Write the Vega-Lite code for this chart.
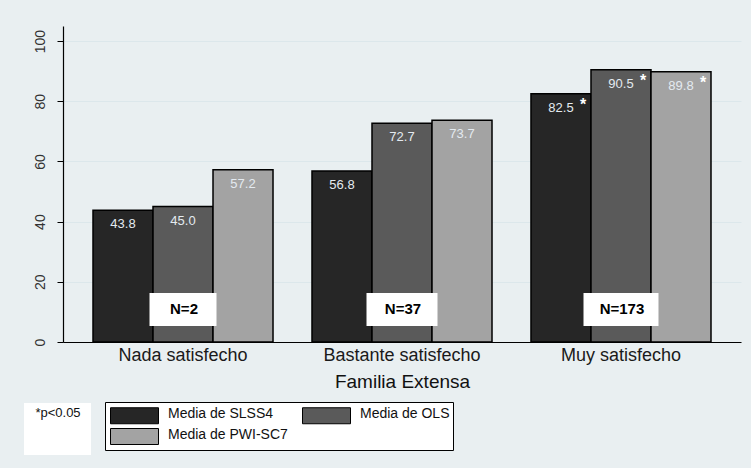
{
  "$schema": "https://vega.github.io/schema/vega-lite/v6.json",
  "width": 678,
  "height": 316,
  "autosize": {"type": "none"},
  "padding": {"left": 63, "top": 26, "right": 10, "bottom": 126},
  "background": "#e9eff1",
  "config": {
    "view": {"fill": "white", "stroke": null},
    "font": "Liberation Sans"
  },
  "datasets": {
    "medias": [
      {"grupo": "Nada satisfecho", "serie": "Media de SLSS4", "valor": 43.8, "sig": ""},
      {"grupo": "Nada satisfecho", "serie": "Media de OLS", "valor": 45.0, "sig": ""},
      {"grupo": "Nada satisfecho", "serie": "Media de PWI-SC7", "valor": 57.2, "sig": ""},
      {"grupo": "Bastante satisfecho", "serie": "Media de SLSS4", "valor": 56.8, "sig": ""},
      {"grupo": "Bastante satisfecho", "serie": "Media de OLS", "valor": 72.7, "sig": ""},
      {"grupo": "Bastante satisfecho", "serie": "Media de PWI-SC7", "valor": 73.7, "sig": ""},
      {"grupo": "Muy satisfecho", "serie": "Media de SLSS4", "valor": 82.5, "sig": "*"},
      {"grupo": "Muy satisfecho", "serie": "Media de OLS", "valor": 90.5, "sig": "*"},
      {"grupo": "Muy satisfecho", "serie": "Media de PWI-SC7", "valor": 89.8, "sig": "*"}
    ],
    "muestras": [
      {"grupo": "Nada satisfecho", "n": "N=2"},
      {"grupo": "Bastante satisfecho", "n": "N=37"},
      {"grupo": "Muy satisfecho", "n": "N=173"}
    ],
    "nota": [
      {"nota": "*p<0.05"}
    ]
  },
  "layer": [
    {
      "data": {"name": "medias"},
      "mark": {"type": "bar", "stroke": "black", "strokeWidth": 1.5},
      "encoding": {
        "x": {
          "field": "grupo", "type": "nominal",
          "sort": ["Nada satisfecho", "Bastante satisfecho", "Muy satisfecho"],
          "scale": {"paddingInner": 0.178, "paddingOuter": 0.137},
          "axis": {
            "title": "Familia Extensa",
            "labelAngle": 0,
            "labelFontSize": 18,
            "labelColor": "#1a1a1a",
            "labelPadding": 4,
            "ticks": false,
            "domainColor": "black",
            "domainWidth": 1.2,
            "titleFontSize": 19,
            "titleFontWeight": "normal",
            "titleColor": "#111111",
            "titlePadding": 8
          }
        },
        "xOffset": {
          "field": "serie", "type": "nominal",
          "sort": ["Media de SLSS4", "Media de OLS", "Media de PWI-SC7"],
          "scale": {"paddingInner": 0, "paddingOuter": 0}
        },
        "y": {
          "field": "valor", "type": "quantitative",
          "scale": {"domain": [0, 105], "nice": false},
          "axis": {
            "title": null,
            "values": [0, 20, 40, 60, 80, 100],
            "labelAngle": -90,
            "labelAlign": "center",
            "labelBaseline": "bottom",
            "labelFontSize": 14,
            "labelColor": "#333333",
            "labelPadding": 10,
            "tickSize": 6,
            "tickColor": "black",
            "domainColor": "black",
            "domainWidth": 1.2,
            "grid": true,
            "gridColor": "#dce7eb",
            "gridWidth": 1
          }
        },
        "color": {
          "field": "serie", "type": "nominal",
          "sort": ["Media de SLSS4", "Media de OLS", "Media de PWI-SC7"],
          "scale": {
            "domain": ["Media de SLSS4", "Media de OLS", "Media de PWI-SC7"],
            "range": ["#262626", "#5a5a5a", "#a3a3a3"]
          },
          "legend": {
            "title": null,
            "orient": "none",
            "direction": "horizontal",
            "legendX": 42,
            "legendY": 376,
            "columns": 2,
            "fillColor": "white",
            "strokeColor": "black",
            "padding": 3,
            "symbolType": "M-0.75,-0.75H5.25V1.25H-0.75Z",
            "symbolSize": 256,
            "symbolStrokeColor": "black",
            "symbolStrokeWidth": 1,
            "symbolOpacity": 1,
            "labelFontSize": 14,
            "labelColor": "#111111",
            "labelOffset": 43,
            "rowPadding": 0,
            "columnPadding": 12
          }
        }
      }
    },
    {
      "data": {"name": "medias"},
      "mark": {"type": "text", "baseline": "middle", "dy": 14, "fontSize": 13, "fill": "#e4eaf0"},
      "encoding": {
        "x": {"field": "grupo", "type": "nominal", "sort": ["Nada satisfecho", "Bastante satisfecho", "Muy satisfecho"]},
        "xOffset": {"field": "serie", "type": "nominal", "sort": ["Media de SLSS4", "Media de OLS", "Media de PWI-SC7"]},
        "y": {"field": "valor", "type": "quantitative"},
        "text": {"field": "valor", "type": "quantitative", "format": ".1f"}
      }
    },
    {
      "data": {"name": "medias"},
      "mark": {"type": "text", "baseline": "top", "dx": 22, "dy": 3, "fontSize": 16, "fontWeight": "bold", "fill": "white"},
      "encoding": {
        "x": {"field": "grupo", "type": "nominal", "sort": ["Nada satisfecho", "Bastante satisfecho", "Muy satisfecho"]},
        "xOffset": {"field": "serie", "type": "nominal", "sort": ["Media de SLSS4", "Media de OLS", "Media de PWI-SC7"]},
        "y": {"field": "valor", "type": "quantitative"},
        "text": {"field": "sig", "type": "nominal"}
      }
    },
    {
      "data": {"name": "muestras"},
      "mark": {"type": "bar", "fill": "white"},
      "encoding": {
        "x": {"field": "grupo", "type": "nominal", "sort": ["Nada satisfecho", "Bastante satisfecho", "Muy satisfecho"]},
        "y": {"datum": 5.3, "type": "quantitative"},
        "y2": {"datum": 16.3},
        "size": {
          "field": "n", "type": "ordinal",
          "scale": {"domain": ["N=2", "N=37", "N=173"], "range": [67, 75, 87]},
          "legend": null
        }
      }
    },
    {
      "data": {"name": "muestras"},
      "mark": {"type": "text", "baseline": "middle", "fontSize": 15, "fontWeight": "bold", "fill": "black", "dx": 1},
      "encoding": {
        "x": {"field": "grupo", "type": "nominal", "sort": ["Nada satisfecho", "Bastante satisfecho", "Muy satisfecho"]},
        "y": {"datum": 10.8, "type": "quantitative"},
        "text": {"field": "n", "type": "nominal"}
      }
    },
    {
      "data": {"name": "nota"},
      "mark": {"type": "point", "opacity": 0, "size": 0},
      "encoding": {
        "shape": {
          "field": "nota", "type": "nominal",
          "legend": {
            "title": "*p<0.05",
            "titleFontSize": 13,
            "titleFontWeight": "normal",
            "titleColor": "#111111",
            "titleAnchor": "middle",
            "titlePadding": 2,
            "orient": "none",
            "legendX": -39,
            "legendY": 377,
            "fillColor": "white",
            "padding": 4,
            "symbolType": "square",
            "symbolSize": 841,
            "symbolOpacity": 0,
            "symbolStrokeWidth": 0,
            "labelExpr": "''",
            "labelOffset": 30
          }
        }
      }
    }
  ]
}
